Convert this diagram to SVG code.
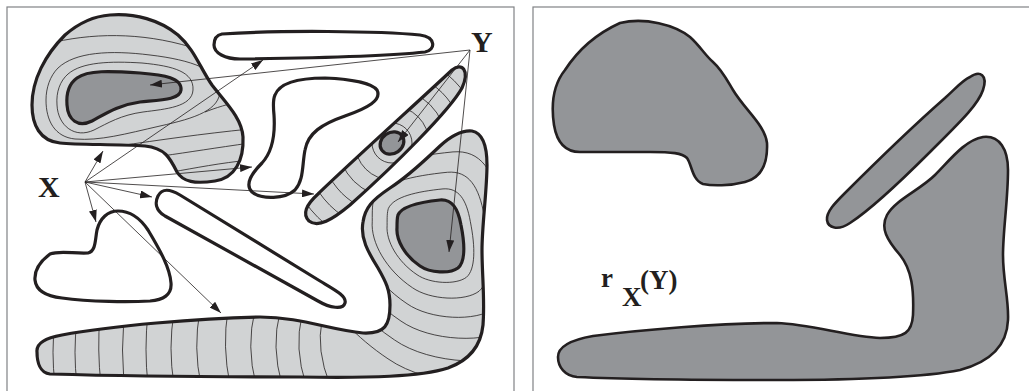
<svg xmlns="http://www.w3.org/2000/svg" xmlns:xlink="http://www.w3.org/1999/xlink" width="1029" height="391" viewBox="0 0 1029 391">
<style>
.frame{fill:none;stroke:#808285;stroke-width:1.2}
.lt{fill:#d1d3d4;stroke:none}
.dk{fill:#939598;stroke:#231f20;stroke-width:3.2;stroke-linejoin:round}
.ol{fill:none;stroke:#231f20;stroke-width:3.2;stroke-linejoin:round}
.wh{fill:#fff;stroke:#231f20;stroke-width:3.2;stroke-linejoin:round}
.ct{fill:none;stroke:#231f20;stroke-width:0.8}
.ar{fill:none;stroke:#231f20;stroke-width:0.8;marker-end:url(#ah)}
.rs{fill:#939598;stroke:#231f20;stroke-width:2.6;stroke-linejoin:round}
.lbl{font-family:"Liberation Serif","Times New Roman",serif;font-weight:bold;fill:#231f20}
</style>
<defs>
<marker id="ah" markerUnits="userSpaceOnUse" markerWidth="12" markerHeight="8" refX="12" refY="4" orient="auto">
<path d="M0,0 L12,4 L0,8 Z" fill="#231f20"/>
</marker>
<path id="pA" d="M 110,15 C 135,13 160,20 178,35 C 195,50 200,68 212,85 C 225,102 242,118 243,137 C 244,160 235,178 215,181 C 195,184 183,182 177,172 C 170,158 165,148 145,146 C 115,144 80,145 60,143 C 40,141 32,125 32,105 C 32,80 45,55 65,35 C 80,22 95,16 110,15 Z"/>
<path id="pAi" d="M 77,78 C 88,70 110,71 140,73 C 165,75 182,78 181,90 C 180,100 160,100 140,102 C 118,105 105,114 92,121 C 78,128 68,120 67,105 C 66,92 70,83 77,78 Z"/>
<path id="pD" d="M 452,70 C 462,62 470,70 462,88 C 450,110 395,165 350,205 C 332,220 318,228 309,221 C 302,214 306,205 318,194 C 350,163 420,100 452,70 Z"/>
<path id="pE" d="M 37,352 C 36,343 45,338 62,335 C 110,326 200,318 260,317 C 300,317 330,330 363,333 C 385,334 390,325 390,305 C 390,290 386,282 378,268 C 368,252 360,238 363,222 C 365,208 372,200 390,188 C 410,175 425,160 440,146 C 452,135 462,130 472,131 C 482,133 487,145 487,165 C 487,190 482,225 482,250 C 482,275 485,300 483,325 C 481,345 470,360 448,368 C 420,377 370,378 300,377 C 220,377 120,376 50,374 C 40,373 37,362 37,352 Z"/>
<path id="pEi" vector-effect="non-scaling-stroke" d="M 398,215 C 402,206 420,202 440,200 C 452,199 458,208 461,225 C 465,245 465,262 458,268 C 450,274 430,273 420,266 C 405,256 396,240 397,228 C 397,222 397,218 398,215 Z"/>
<clipPath id="cA"><use xlink:href="#pA"/></clipPath>
<clipPath id="cD"><use xlink:href="#pD"/></clipPath>
<clipPath id="cE"><use xlink:href="#pE"/></clipPath>
</defs>
<rect x="0" y="0" width="1029" height="391" fill="#fff"/>
<g id="frames">
<rect class="frame" x="7" y="7" width="507" height="400"/>
<rect class="frame" x="533" y="7" width="505" height="400"/>
</g>
<g id="shapeA">
<use xlink:href="#pA" class="lt"/>
<g clip-path="url(#cA)" class="ct">
<path d="M 68,74 C 82,62 110,61 142,63 C 174,66 194,72 193,90 C 192,107 166,109 143,112 C 121,115 108,123 94,130 C 75,139 58,126 57,105 C 56,92 60,81 68,74 Z"/>
<path d="M 58,68 C 75,52 110,50 150,55 C 192,60 220,70 220,90 C 220,110 196,118 160,126 C 125,134 100,141 75,139 C 55,137 46,121 46,100 C 46,88 50,76 58,68 Z"/>
<path d="M 55,42 C 100,32 150,33 200,50"/>
<path d="M 205,112 C 215,108 228,104 245,100"/>
<path d="M 118,146 C 160,140 200,134 250,129"/>
<path d="M 162,156 C 190,152 215,148 250,143"/>
<path d="M 172,172 C 195,168 220,163 250,160"/>
</g>
<use xlink:href="#pAi" class="dk"/>
<use xlink:href="#pA" class="ol"/>
</g>
<g id="shapeB">
<path class="wh" d="M 222,34 C 280,30 380,31 420,35 C 436,37 436,50 425,52 C 390,56 320,58 240,59 C 225,59 214,53 214,45 C 214,38 217,35 222,34 Z"/>
</g>
<g id="shapeC">
<path class="wh" d="M 275,95 C 280,82 300,78 325,78 C 350,79 372,83 377,90 C 382,100 368,108 345,116 C 322,124 308,133 305,150 C 302,165 304,180 295,190 C 285,199 262,200 252,192 C 245,185 250,175 262,163 C 274,150 275,130 274,115 C 273,105 273,99 275,95 Z"/>
</g>
<g id="shapeD">
<use xlink:href="#pD" class="lt"/>
<g clip-path="url(#cD)" class="ct">
<circle cx="392" cy="143" r="20"/>
<circle cx="392" cy="143" r="37"/>
<circle cx="392" cy="143" r="54"/>
<circle cx="392" cy="143" r="71"/>
<circle cx="392" cy="143" r="88"/>
<circle cx="392" cy="143" r="105"/>
</g>
<ellipse class="dk" cx="392" cy="143" rx="12.5" ry="10.5" transform="rotate(-35 392 143)"/>
<use xlink:href="#pD" class="ol"/>
</g>
<g id="shapeE">
<use xlink:href="#pE" class="lt"/>
<g clip-path="url(#cE)">
<use xlink:href="#pEi" class="ct" transform="translate(430,237) scale(1.3) translate(-430,-237)"/>
<use xlink:href="#pEi" class="ct" transform="translate(430,237) scale(1.75) translate(-430,-237)"/>
<use xlink:href="#pEi" class="ct" transform="translate(430,237) scale(2.3) translate(-430,-237)"/>
<use xlink:href="#pEi" class="ct" transform="translate(430,237) scale(2.9) translate(-430,-237)"/>
<use xlink:href="#pEi" class="ct" transform="translate(430,237) scale(3.55) translate(-430,-237)"/>
<use xlink:href="#pEi" class="ct" transform="translate(430,237) scale(4.2) translate(-430,-237)"/>
<g class="ct">
<path d="M 55,320 Q 51,352 55,385"/>
<path d="M 77,320 Q 73,352 77,385"/>
<path d="M 100,315 Q 97,350 101,385"/>
<path d="M 124,315 Q 121,350 124,385"/>
<path d="M 148,312 Q 144,350 148,385"/>
<path d="M 174,312 Q 168,348 174,385"/>
<path d="M 200,310 Q 193,348 201,385"/>
<path d="M 228,310 Q 222,346 230,385"/>
<path d="M 255,310 Q 246,346 256,385"/>
<path d="M 280,312 Q 271,346 282,385"/>
<path d="M 302,315 Q 294,348 306,385"/>
<path d="M 322,320 Q 316,350 330,385"/>
</g>
</g>
<use xlink:href="#pEi" class="dk"/>
<use xlink:href="#pE" class="ol"/>
</g>
<g id="shapeF">
<path class="wh" d="M 158,196 C 162,188 170,189 180,195 L 320,281 C 335,290 347,296 345,303 C 343,310 330,308 318,301 L 165,216 C 155,210 155,202 158,196 Z"/>
</g>
<g id="shapeG">
<path class="wh" d="M 97,230 C 100,218 108,211 118,211 C 130,211 140,218 148,230 C 160,250 170,268 171,283 C 172,295 163,300 150,301 C 130,302 90,302 62,298 C 45,296 36,290 35,280 C 34,268 42,260 50,254 C 60,250 75,254 88,253 C 96,251 95,240 97,230 Z"/>
</g>
<g id="connectors">
<line class="ar" x1="85" y1="182" x2="103" y2="151"/>
<line class="ar" x1="85" y1="182" x2="263" y2="60"/>
<line class="ar" x1="85" y1="182" x2="252" y2="167"/>
<line class="ar" x1="85" y1="182" x2="314" y2="194"/>
<line class="ar" x1="85" y1="182" x2="152" y2="197"/>
<line class="ar" x1="85" y1="182" x2="96" y2="222"/>
<line class="ar" x1="85" y1="182" x2="221" y2="313"/>
<line class="ar" x1="470" y1="50" x2="150" y2="85"/>
<line class="ar" x1="470" y1="50" x2="398" y2="142"/>
<line class="ar" x1="470" y1="50" x2="449" y2="252"/>
</g>
<g id="labelX"><text class="lbl" x="38" y="197" font-size="30">X</text></g>
<g id="labelY"><text class="lbl" x="471" y="52" font-size="30">Y</text></g>
<g id="R1">
<path class="rs" d="M 620,23 C 645,17 675,25 690,37 C 700,46 705,55 713,62 C 722,70 727,80 733,90 C 745,110 765,125 767,143 C 768,165 760,178 745,182 C 730,186 712,186 703,184 C 692,180 692,165 687,158 C 682,153 672,152 650,152 L 580,152 C 565,152 557,143 554,125 C 551,105 553,85 565,70 C 578,50 598,33 620,23 Z"/>
</g>
<g id="R2">
<path class="rs" d="M 970,77 C 980,70 988,75 983,90 C 978,105 960,122 930,152 C 900,182 870,210 850,223 C 838,231 828,228 827,220 C 826,212 835,203 845,193 C 880,158 920,120 945,98 C 958,86 963,80 970,77 Z"/>
</g>
<g id="R3">
<path class="rs" d="M 558,357 C 558,347 570,340 593,336 C 640,330 720,323 777,323 C 810,324 850,337 880,338 C 905,338 912,332 913,315 C 914,290 912,270 900,255 C 887,240 880,228 887,215 C 895,200 920,190 935,175 C 950,160 965,140 983,137 C 1000,135 1008,150 1008,170 C 1008,200 1003,230 1003,255 C 1003,280 1009,300 1008,320 C 1007,345 990,362 960,370 C 920,378 850,380 777,380 C 700,380 620,379 577,377 C 565,376 558,367 558,357 Z"/>
</g>
<g id="labelR">
<text class="lbl" x="601" y="287" font-size="27">r</text>
<text class="lbl" x="622" y="306" font-size="27">X</text>
<text class="lbl" x="640" y="289" font-size="27">(Y)</text>
</g>
</svg>
